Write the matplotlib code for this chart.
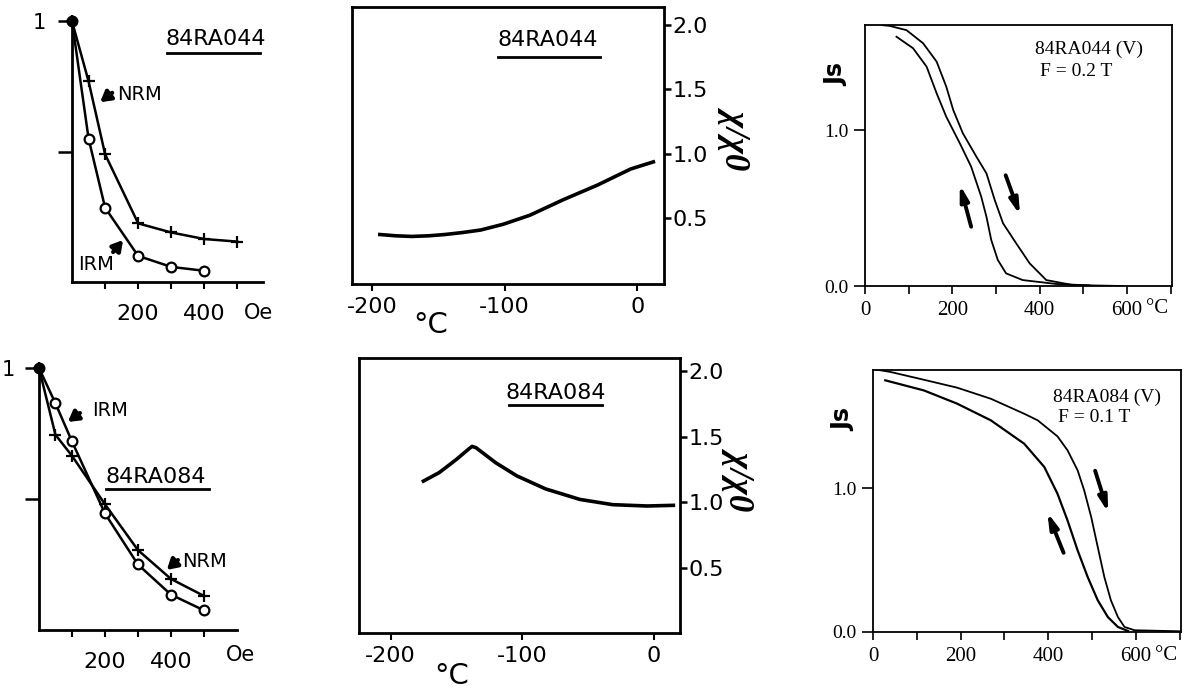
import matplotlib.pyplot as plt

plt.rcParams['axes.unicode_minus'] = False
plt.rcParams['font.family'] = ['DejaVu Sans']

# left panels: normalised remanence vs AF field (Oe)
field = [0, 50, 100, 200, 300, 400, 500]
nrm_44 = [1.0, 0.77, 0.49, 0.225, 0.19, 0.165, 0.155]
irm_field_44 = [0, 50, 100, 200, 300, 400]
irm_44 = [1.0, 0.55, 0.285, 0.10, 0.058, 0.043]
nrm_84 = [1.0, 0.745, 0.665, 0.48, 0.305, 0.195, 0.13]
irm_84 = [1.0, 0.865, 0.72, 0.445, 0.25, 0.135, 0.075]

# middle panels: low temperature susceptibility chi/chi0
temp_44 = [-194, -182, -170, -157, -145, -132, -118, -101, -81, -56, -30, -5, 12]
chi_44 = [0.37, 0.36, 0.355, 0.36, 0.37, 0.385, 0.405, 0.45, 0.52, 0.64, 0.755, 0.88, 0.935]
temp_84 = [-175, -163, -150, -140, -138, -135, -120, -104, -82, -56, -31, -5, 15]
chi_84 = [1.16, 1.225, 1.325, 1.41, 1.425, 1.415, 1.30, 1.20, 1.10, 1.02, 0.98, 0.97, 0.975]

# right panels: Js(T) heating / cooling
heat_t_44 = [40, 57, 95, 133, 164, 186, 202, 224, 255, 278, 297, 316, 346, 377, 415, 476, 590]
heat_js_44 = [1.672, 1.667, 1.64, 1.556, 1.438, 1.278, 1.128, 0.979, 0.829, 0.722, 0.551, 0.402, 0.274, 0.145, 0.038, 0.006, 0.0]
cool_t_44 = [72, 110, 141, 164, 186, 217, 243, 266, 278, 289, 304, 323, 361, 438, 514]
cool_js_44 = [1.598, 1.524, 1.406, 1.235, 1.085, 0.915, 0.765, 0.573, 0.444, 0.295, 0.167, 0.081, 0.038, 0.013, 0.004]
heat_t_84 = [9, 40, 116, 192, 269, 345, 376, 421, 444, 467, 482, 498, 513, 528, 543, 559, 574, 597, 700]
heat_js_84 = [1.822, 1.806, 1.752, 1.697, 1.62, 1.516, 1.47, 1.359, 1.262, 1.123, 0.984, 0.799, 0.59, 0.382, 0.22, 0.104, 0.035, 0.012, 0.005]
cool_t_84 = [28, 116, 192, 269, 345, 391, 421, 444, 467, 490, 513, 536, 559, 582]
cool_js_84 = [1.748, 1.678, 1.586, 1.47, 1.308, 1.146, 0.961, 0.775, 0.567, 0.382, 0.22, 0.104, 0.035, 0.007]

# direction arrows (tail, head) in data units
arrows_44 = [((243, 0.38), (217, 0.65)), ((322, 0.71), (355, 0.455))]
arrows_84 = [((435, 0.55), (398, 0.83)), ((507, 1.12), (537, 0.83))]

fig = plt.figure(figsize=(11.91, 6.91), dpi=100)


def af_panel(rect, xmax, ypad):
    ax = fig.add_axes(rect)
    for s in ['top', 'right']:
        ax.spines[s].set_visible(False)
    for s in ['left', 'bottom']:
        ax.spines[s].set_linewidth(2)
    ax.set_xlim(0, xmax)
    ax.set_ylim(0, 1.0)
    ax.set_yticks([0.5, 1.0])
    ax.set_yticklabels(['', '1'], fontsize=15)
    ax.tick_params(axis='y', length=10, width=1.8, pad=ypad)
    ax.set_xticks([100, 200, 300, 400, 500])
    ax.set_xticklabels(['', '200', '', '400', ''], fontsize=16)
    ax.tick_params(axis='x', length=5, width=1.5, pad=11)
    return ax


def curve(ax, x, y, marker):
    ax.plot(x, y, color='k', lw=1.8, marker=marker, ms=7 if marker == 'o' else 8,
            mfc='white', mew=1.6, clip_on=False)
    ax.plot(x[0], y[0], 'o', color='k', ms=6, clip_on=False)


def label_arrow(ax, tail, head):
    ax.annotate('', xy=head, xytext=tail, xycoords='axes fraction',
                arrowprops=dict(arrowstyle='-|>,head_length=0.6,head_width=0.35',
                                lw=3, color='k', shrinkA=0, shrinkB=0))


def underline_text(ax, x, y, txt, x0, x1, yl):
    ax.text(x, y, txt, transform=ax.transAxes, fontsize=16, ha='left', va='center')
    ax.plot([x0, x1], [yl, yl], transform=ax.transAxes, color='k', lw=2, clip_on=False)


# top left
ax1 = af_panel([0.0605, 0.5919, 0.1604, 0.3771], 578, 9)
curve(ax1, field, nrm_44, '+')
curve(ax1, irm_field_44, irm_44, 'o')
underline_text(ax1, 0.487, 0.934, '84RA044', 0.497, 0.984, 0.879)
ax1.text(0.235, 0.718, 'NRM', transform=ax1.transAxes, fontsize=14, va='center')
label_arrow(ax1, (0.21, 0.726), (0.147, 0.69))
ax1.text(0.03, 0.069, 'IRM', transform=ax1.transAxes, fontsize=14, va='center')
label_arrow(ax1, (0.215, 0.115), (0.267, 0.161))
ax1.text(0.975, -0.12, 'Oe', transform=ax1.transAxes, fontsize=15, ha='center', va='center')

# bottom left
ax4 = af_panel([0.0327, 0.0883, 0.1662, 0.3792], 600, 7)
curve(ax4, field, nrm_84, '+')
curve(ax4, field, irm_84, 'o')
underline_text(ax4, 0.338, 0.582, '84RA084', 0.338, 0.86, 0.538)
ax4.text(0.268, 0.836, 'IRM', transform=ax4.transAxes, fontsize=14, va='center')
label_arrow(ax4, (0.207, 0.828), (0.146, 0.794))
ax4.text(0.722, 0.263, 'NRM', transform=ax4.transAxes, fontsize=14, va='center')
label_arrow(ax4, (0.702, 0.267), (0.646, 0.229))
ax4.text(1.02, -0.095, 'Oe', transform=ax4.transAxes, fontsize=15, ha='center', va='center')


def chi_panel(rect, xlim, ylim, lab_x, lab_y):
    ax = fig.add_axes(rect)
    for s in ax.spines.values():
        s.set_linewidth(2)
    ax.set_xlim(*xlim)
    ax.set_ylim(*ylim)
    ax.set_xticks([-200, -100, 0])
    ax.set_xticklabels(['-200', '-100', '0'], fontsize=16)
    ax.tick_params(axis='x', length=5, width=1.5, pad=4)
    ax.yaxis.tick_right()
    ax.set_yticks([0.5, 1.0, 1.5, 2.0])
    ax.set_yticklabels(['0.5', '1.0', '1.5', '2.0'], fontsize=16)
    ax.tick_params(axis='y', length=5, width=1.8, pad=1)
    ax.text(lab_x, lab_y, 'χ/χ0', transform=ax.transAxes, rotation=270, fontsize=25,
            family='Liberation Serif', fontstyle='italic', fontweight='bold',
            ha='center', va='center')
    return ax


# top middle
ax2 = chi_panel([0.2955, 0.5890, 0.2620, 0.4009], (-215, 20), (-0.015, 2.14), 1.237, 0.531)
ax2.plot(temp_44, chi_44, color='k', lw=2.6)
underline_text(ax2, 0.465, 0.879, '84RA044', 0.468, 0.795, 0.819)
ax2.text(0.253, -0.148, '°C', transform=ax2.transAxes, fontsize=21, ha='center', va='center')

# bottom middle
ax5 = chi_panel([0.3014, 0.0839, 0.2695, 0.3980], (-224, 20), (0, 2.1), 1.193, 0.564)
ax5.plot(temp_84, chi_84, color='k', lw=2.6)
underline_text(ax5, 0.455, 0.871, '84RA084', 0.467, 0.757, 0.829)
ax5.text(0.29, -0.155, '°C', transform=ax5.transAxes, fontsize=21, ha='center', va='center')


def js_panel(rect, ymax):
    ax = fig.add_axes(rect)
    for s in ax.spines.values():
        s.set_linewidth(1.3)
    ax.set_xlim(0, 703)
    ax.set_ylim(0, ymax)
    ax.set_xticks(range(0, 701, 100))
    ax.set_xticklabels(['0', '', '200', '', '400', '', '600', ''],
                       family='Liberation Serif', fontsize=15)
    ax.tick_params(axis='x', length=6, width=1.2, pad=5)
    ax.set_yticks([0.0, 1.0])
    ax.set_yticklabels(['0.0', '1.0'], family='Liberation Serif', fontsize=14)
    ax.tick_params(axis='y', length=8, width=1.2, pad=4)
    ax.annotate('°C', xy=(0.915, -0.088), xycoords='axes fraction',
                family='Liberation Serif', fontsize=15, ha='left', va='center',
                annotation_clip=False)
    ax.text(-0.095, 0.81, 'Js', transform=ax.transAxes, rotation=90, fontsize=17,
            fontweight='bold', ha='center', va='center')
    return ax


def dir_arrows(ax, arrows):
    for tail, head in arrows:
        ax.annotate('', xy=head, xytext=tail,
                    arrowprops=dict(arrowstyle='-|>,head_length=0.9,head_width=0.25',
                                    lw=2.8, color='k', shrinkA=0, shrinkB=0))


# top right
ax3 = js_panel([0.7263, 0.5861, 0.2578, 0.3777], 1.673)
ax3.plot(heat_t_44, heat_js_44, color='k', lw=1.3)
ax3.plot(cool_t_44, cool_js_44, color='k', lw=1.3)
dir_arrows(ax3, arrows_44)
ax3.text(0.553, 0.905, '84RA044 (V)', transform=ax3.transAxes, family='Liberation Serif',
         fontsize=14, va='center')
ax3.text(0.57, 0.82, 'F = 0.2 T', transform=ax3.transAxes, family='Liberation Serif',
         fontsize=14, va='center')

# bottom right
ax6 = js_panel([0.7330, 0.0854, 0.2586, 0.3792], 1.82)
ax6.plot(heat_t_84, heat_js_84, color='k', lw=1.3)
ax6.plot(cool_t_84, cool_js_84, color='k', lw=1.6)
dir_arrows(ax6, arrows_84)
ax6.text(0.584, 0.897, '84RA084 (V)', transform=ax6.transAxes, family='Liberation Serif',
         fontsize=14, va='center')
ax6.text(0.60, 0.82, 'F = 0.1 T', transform=ax6.transAxes, family='Liberation Serif',
         fontsize=14, va='center')

fig.savefig('out.png', dpi=100)
